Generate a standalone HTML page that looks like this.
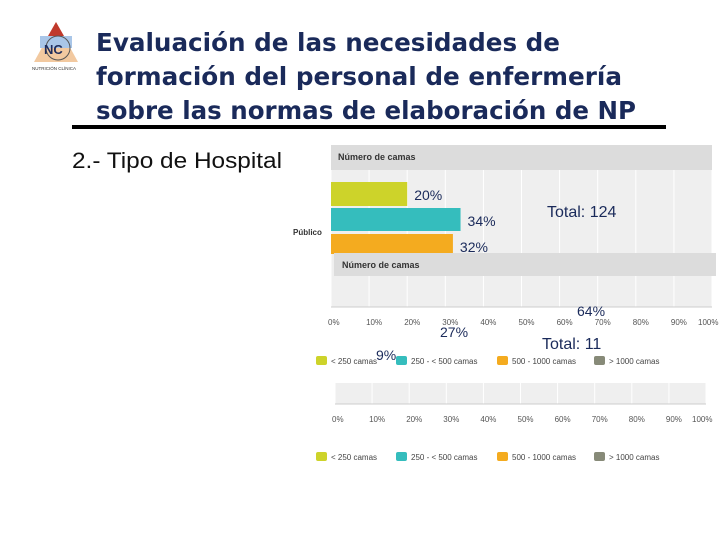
<!DOCTYPE html>
<html><head><meta charset="utf-8"><style>
body{margin:0;background:#fff;}
svg{display:block;font-family:"Liberation Sans",sans-serif;}
</style></head><body>
<svg id="s" width="720" height="540" viewBox="0 0 720 540">
<g>
<polygon points="56,22 34,62 78,62" fill="#f2c9a0"/>
<polygon points="56,22 48,36 64,36" fill="#c0392b"/>
<rect x="40" y="36" width="32" height="12" fill="#a9c6e8"/>
<circle cx="58" cy="48" r="12" fill="none" stroke="#555" stroke-width="1"/>
<text x="44" y="54" font-size="13" font-weight="bold" fill="#1f2d5c">NC</text>
<text x="32" y="70" font-size="4.5" fill="#333">NUTRICIÓN CLÍNICA</text>
</g>
<g font-weight="bold" font-size="25" fill="#1a2a5a" font-family="'DejaVu Sans',sans-serif">
<text x="96" y="51" textLength="464" lengthAdjust="spacingAndGlyphs">Evaluación de las necesidades de</text>
<text x="96" y="85" textLength="526" lengthAdjust="spacingAndGlyphs">formación del personal de enfermería</text>
<text x="96" y="119" textLength="540" lengthAdjust="spacingAndGlyphs">sobre las normas de elaboración de NP</text>
</g>
<rect x="72" y="125" width="594" height="4" fill="#000"/>
<text x="72" y="168" font-size="22" fill="#111" textLength="210" lengthAdjust="spacingAndGlyphs">2.- Tipo de Hospital</text>
<g id="c1"></g>
<g id="c2"></g>
<g fill="#1a2a5a">
<text x="547" y="217" font-size="16">Total: 124</text>
<text x="542" y="349" font-size="16">Total: 11</text>
</g>
</svg>
<script>
const categories=["< 250 camas","250 - < 500 camas","500 - 1000 camas","> 1000 camas"];
const colors=["#cdd32a","#35bdbd","#f4ab1f","#878a78"];
const publicoValues=[20,34,32];
const privadoValues=[9,27,64];
const ticks=[0,10,20,30,40,50,60,70,80,90,100];
const NS="http://www.w3.org/2000/svg";
function mk(p,t,a){const e=document.createElementNS(NS,t);for(const k in a)e.setAttribute(k,a[k]);p.appendChild(e);return e;}
function chart(g,x0,x1,headY,plotTop,plotBot,tickY,legY){
  const X=v=>x0+(x1-x0)*v/100;
  const h=mk(g,'rect',{x:x0,y:headY,width:x1-x0,height:plotTop-headY,fill:'#dcdcdc'});
  
  
  const ht=mk(g,'text',{x:x0+7,y:headY+15,'font-size':9,'font-weight':'bold',fill:'#333'});ht.textContent='Número de camas';
  mk(g,'rect',{x:x0,y:plotTop,width:x1-x0,height:plotBot-plotTop,fill:'#efefef'});
  ticks.forEach(t=>{
    const l=mk(g,'line',{x1:X(t),x2:X(t),y1:plotTop,y2:plotBot,stroke:'#fff','stroke-width':1});
    
    
    const tx=mk(g,'text',{x:X(t)-(t===100?14:3),y:tickY,'font-size':8,fill:'#555'});tx.textContent=t+'%';
    
    
  });
  mk(g,'line',{x1:x0,x2:x1,y1:plotBot,y2:plotBot,stroke:'#ccc'});
  const lx=[316,396,497,594];
  categories.forEach((c,i)=>{
    const r=mk(g,'rect',{x:lx[i],y:legY-6,width:11,height:9,rx:2,fill:colors[i]});
    
    
    const t=mk(g,'text',{x:lx[i]+15,y:legY+2,'font-size':8,fill:'#444'});t.textContent=categories[i];
    
    
  });
  return X;
}
const g1=document.getElementById('c1'),g2=document.getElementById('c2');
const X1=chart(g1,331,712,145,170,307,325,362);
const cat=mk(g1,'text',{x:293,y:235,'font-size':8,'font-weight':'bold',fill:'#333'});cat.textContent='Público';
const barY=[182,208,234],barH=[24,23,20];
publicoValues.forEach((v,i)=>{
  const b=mk(g1,'rect',{x:X1(0),y:barY[i],width:X1(v)-X1(0),height:barH[i],fill:colors[i]});
  
  
  const t=mk(g1,'text',{x:X1(v)+7,y:barY[i]+18,'font-size':14,fill:'#1a2a5a'});t.textContent=v+'%';
  
  
});
const h2=mk(g1,'rect',{x:334,y:253,width:382,height:23,fill:'#dcdcdc'});
const h2t=mk(g1,'text',{x:342,y:268,'font-size':9,'font-weight':'bold',fill:'#333'});h2t.textContent='Número de camas';
const X2=chart(g2,335,706,383,383,404,422,458);
g2.querySelector('rect').remove();g2.querySelector('text').remove();
const plx=[376,440,577],ply=[360,337,316];
privadoValues.forEach((v,i)=>{
  const t=mk(g2,'text',{x:plx[i],y:ply[i],'font-size':14,fill:'#1a2a5a'});t.textContent=v+'%';
  
  
});
</script>
</body></html>
